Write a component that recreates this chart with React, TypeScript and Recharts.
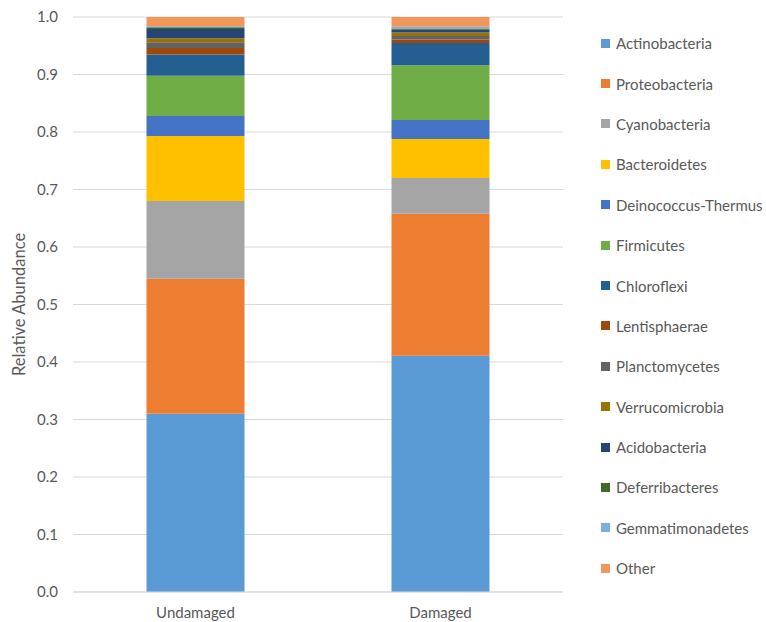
import React from "react";
import { BarChart, Bar, XAxis, YAxis, CartesianGrid } from "recharts";

const samples = ["Undamaged", "Damaged"];

const phyla = [
  "Actinobacteria",
  "Proteobacteria",
  "Cyanobacteria",
  "Bacteroidetes",
  "Deinococcus-Thermus",
  "Firmicutes",
  "Chloroflexi",
  "Lentisphaerae",
  "Planctomycetes",
  "Verrucomicrobia",
  "Acidobacteria",
  "Deferribacteres",
  "Gemmatimonadetes",
  "Other",
];

const undamaged = [0.31, 0.235, 0.135, 0.113, 0.035, 0.07, 0.037, 0.011, 0.01, 0.007, 0.016, 0.003, 0.002, 0.016];
const damaged = [0.411, 0.247, 0.062, 0.068, 0.033, 0.095, 0.039, 0.006, 0.006, 0.006, 0.005, 0.002, 0.003, 0.017];

const yTicks = [0, 0.1, 0.2, 0.3, 0.4, 0.5, 0.6, 0.7, 0.8, 0.9, 1.0];

const COLORS = [
  "#5B9BD5",
  "#ED7D31",
  "#A5A5A5",
  "#FFC000",
  "#4472C4",
  "#70AD47",
  "#255E91",
  "#9E480E",
  "#636363",
  "#997300",
  "#264478",
  "#43682B",
  "#7CAFDD",
  "#F1975A",
];

const series = [undamaged, damaged];

const data = samples.map((name, i) => {
  const row: Record<string, string | number> = { name };
  phyla.forEach((p, j) => {
    row[p] = series[i][j];
  });
  return row;
});

const FONT = "Lato, 'Open Sans', sans-serif";
const TEXT = "#595959";

// legend drawn beside the chart so it doesn't eat plot width
function LegendList() {
  return (
    <div
      style={{ position: "absolute", left: 601, top: 23, fontFamily: FONT, fontSize: 15, color: TEXT }}
    >
      {phyla.map((p, j) => (
        <div key={p} style={{ height: 40.4, display: "flex", alignItems: "center", whiteSpace: "nowrap" }}>
          <span
            style={{ width: 9, height: 9, background: COLORS[j], display: "inline-block", marginRight: 6 }}
          />
          {p}
        </div>
      ))}
    </div>
  );
}

export default function App() {
  return (
    <div style={{ position: "absolute", left: 0, top: 0, width: 766, height: 622, background: "#fff" }}>
      <BarChart
        width={766}
        height={622}
        data={data}
        margin={{ top: 17, right: 203, left: 0, bottom: 0 }}
        barCategoryGap="30%"
      >
        <CartesianGrid vertical={false} stroke="#d9d9d9" />
        <XAxis
          dataKey="name"
          height={30}
          tickLine={false}
          tickSize={6}
          tickMargin={9}
          axisLine={{ stroke: "#d9d9d9" }}
          tick={{ fontSize: 15, fill: TEXT, fontFamily: FONT }}
        />
        <YAxis
          width={73}
          domain={[0, 1]}
          ticks={yTicks}
          interval={0}
          axisLine={false}
          tickLine={false}
          tickSize={6}
          tickMargin={9}
          tickFormatter={(v: number) => v.toFixed(1)}
          tick={{ fontSize: 15, fill: TEXT, fontFamily: FONT }}
          label={{
            value: "Relative Abundance",
            angle: -90,
            position: "insideLeft",
            offset: 19,
            style: { textAnchor: "middle", fontSize: 16.5, fill: TEXT, fontFamily: FONT },
          }}
        />
        {phyla.map((p, j) => (
          <Bar key={p} dataKey={p} stackId="a" fill={COLORS[j]} isAnimationActive={false} />
        ))}
      </BarChart>
      <LegendList />
    </div>
  );
}
